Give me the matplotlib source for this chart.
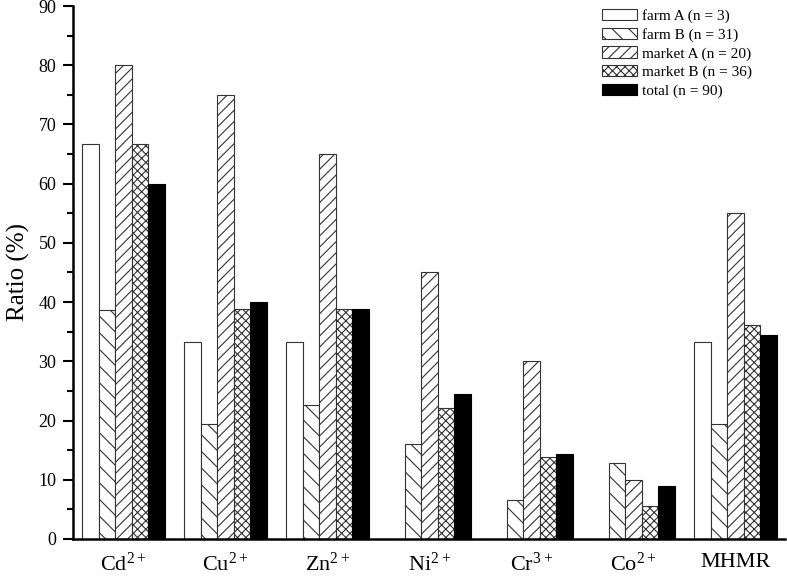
import matplotlib
matplotlib.use("Agg")
import matplotlib.pyplot as plt
import numpy as np

plt.rcParams['font.family'] = ['Liberation Serif', 'DejaVu Serif']
plt.rcParams['mathtext.fontset'] = 'custom'
plt.rcParams['mathtext.rm'] = 'Liberation Serif'
plt.rcParams['hatch.linewidth'] = 0.8

categories = [r'$\mathregular{Cd^{2+}}$', r'$\mathregular{Cu^{2+}}$', r'$\mathregular{Zn^{2+}}$',
              r'$\mathregular{Ni^{2+}}$', r'$\mathregular{Cr^{3+}}$', r'$\mathregular{Co^{2+}}$', 'MHMR']
series_names = ['farm A (n = 3)', 'farm B (n = 31)', 'market A (n = 20)', 'market B (n = 36)', 'total (n = 90)']
farm_a = [66.7, 33.3, 33.3, 0, 0, 0, 33.3]
farm_b = [38.7, 19.4, 22.6, 16.1, 6.5, 12.9, 19.4]
market_a = [80, 75, 65, 45, 30, 10, 55]
market_b = [66.7, 38.9, 38.9, 22.2, 13.9, 5.6, 36.1]
total = [60, 40, 38.9, 24.4, 14.4, 8.9, 34.4]
yticks = [0, 10, 20, 30, 40, 50, 60, 70, 80, 90]

series = [farm_a, farm_b, market_a, market_b, total]
hatches = ['', '\\\\', '///', 'xxxx', '']
faces = ['white', 'white', 'white', 'white', 'black']

fig = plt.figure(figsize=(7.87, 5.78), dpi=100)
ax = fig.add_axes([0.0928, 0.0675, 0.905, 0.9221])

x = np.arange(len(categories))
w = 0.162
for i, (vals, h, fc, name) in enumerate(zip(series, hatches, faces, series_names)):
    ax.bar(x + (i - 2) * w, vals, width=w, facecolor=fc, edgecolor='#333333' if fc == 'white' else 'black',
           hatch=h, linewidth=0.8, label=name)

ax.set_xlim(-0.495, 6.49)
ax.set_ylim(0, 90)
ax.set_yticks(yticks)
ax.set_yticks(np.arange(5, 90, 10), minor=True)
ax.set_xticks(x)
ax.set_xticklabels(categories, fontsize=16)
ax.tick_params(axis='x', length=0, pad=10)
ax.tick_params(axis='y', which='major', direction='out', length=7, width=1.5, labelsize=13, pad=5)
ax.tick_params(axis='y', which='minor', direction='out', length=4, width=1.5)
ax.spines['top'].set_visible(False)
ax.spines['right'].set_visible(False)
ax.spines['left'].set_linewidth(1.8)
ax.spines['bottom'].set_linewidth(1.8)
ax.set_ylabel('Ratio (%)', fontsize=18, labelpad=6)

ax.legend(loc='upper left', bbox_to_anchor=(0.738, 1.0), frameon=False, fontsize=11,
          handlelength=2.3, handleheight=0.75, labelspacing=0.3, handletextpad=0.35, borderaxespad=0.0,
          borderpad=0.2)

fig.savefig('out.png', dpi=100)
